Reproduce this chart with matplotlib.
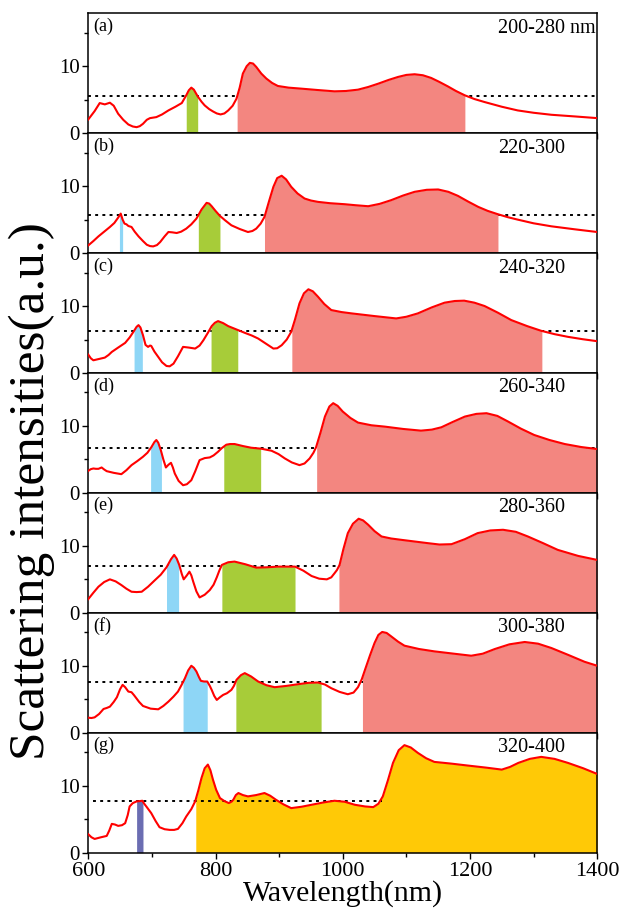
import numpy as np
import matplotlib.pyplot as plt

plt.rcParams['font.family'] = ['Liberation Serif', 'DejaVu Serif']

# Scattering spectra, one per excitation band
wl_a = [600, 610, 618, 626, 634, 640, 647, 655, 663, 670, 676, 681, 686, 692, 697, 707, 716, 726, 737, 747,
        754, 758, 762, 766, 772, 778, 783, 790, 796, 802, 808, 814, 820, 827, 833, 838, 843, 849, 854, 859,
        864, 872, 880, 889, 898, 915, 935, 960, 987, 1005, 1024, 1040, 1056, 1072, 1087, 1100, 1113, 1126,
        1139, 1152, 1165, 1178, 1192, 1207, 1223, 1250, 1275, 1300, 1328, 1365, 1400]
int_a = [2.05, 3.3, 4.5, 4.3, 4.55, 4.1, 2.9, 2.0, 1.3, 1.0, 0.9, 1.05, 1.4, 2.0, 2.25, 2.4, 2.8, 3.4, 3.95, 4.5,
         5.65, 6.4, 6.8, 6.5, 5.5, 4.7, 4.15, 3.6, 3.25, 2.95, 2.8, 2.95, 3.4, 4.1, 5.15, 6.8, 8.9, 10.0, 10.5, 10.4,
         9.9, 8.9, 8.15, 7.5, 7.05, 6.8, 6.65, 6.45, 6.25, 6.3, 6.5, 6.9, 7.4, 7.95, 8.4, 8.7, 8.8, 8.65,
         8.25, 7.65, 7.0, 6.3, 5.65, 5.1, 4.65, 3.95, 3.4, 3.05, 2.75, 2.5, 2.25]

wl_b = [600, 608, 616, 625, 634, 641, 647, 651, 654, 657, 660, 663, 668, 673, 679, 686, 692, 697, 702, 708,
        713, 720, 726, 732, 739, 746, 754, 762, 770, 778, 786, 790, 794, 800, 807, 815, 825, 838, 851, 858,
        864, 871, 877, 884, 891, 897, 904, 911, 919, 929, 940, 950, 961, 980, 1003, 1020, 1040, 1058, 1076,
        1095, 1113, 1132, 1150, 1166, 1181, 1197, 1213, 1228, 1244, 1260, 1275, 1300, 1328, 1365, 1400]
int_b = [1.15, 1.8, 2.5, 3.2, 3.9, 4.5, 5.3, 5.9, 5.0, 4.4, 4.3, 4.05, 3.9, 3.2, 2.5, 1.8, 1.25, 1.05, 1.0, 1.2,
         1.65, 2.5, 3.15, 3.1, 3.0, 3.2, 3.65, 4.3, 5.15, 6.5, 7.5, 7.4, 7.0, 6.3, 5.55, 4.9, 4.15, 3.6, 3.15, 3.3,
         3.65, 4.4, 5.4, 7.7, 9.9, 11.2, 11.55, 11.0, 9.9, 8.9, 8.15, 7.85, 7.65, 7.45, 7.3, 7.15, 7.0, 7.35, 7.9,
         8.6, 9.15, 9.45, 9.5, 9.15, 8.55, 7.7, 6.9, 6.3, 5.8, 5.35, 5.0, 4.45, 4.0, 3.55, 3.15]

wl_c = [600, 604, 608, 617, 626, 632, 637, 647, 658, 665, 671, 676, 679, 682, 686, 690, 694, 697, 699, 704,
        710, 716, 723, 728, 734, 741, 749, 758, 768, 775, 781, 788, 794, 799, 804, 812, 820, 833, 846, 857,
        867, 879, 891, 897, 904, 912, 919, 925, 932, 939, 946, 953, 961, 971, 982, 998, 1014, 1050, 1084,
        1100, 1118, 1140, 1160, 1176, 1191, 1207, 1223, 1244, 1265, 1290, 1312, 1333, 1354, 1377, 1400]
int_c = [2.75, 2.2, 1.9, 2.1, 2.3, 2.7, 3.15, 3.8, 4.5, 5.3, 6.15, 6.9, 7.15, 6.8, 5.65, 4.2, 3.9, 4.1, 4.05, 3.2,
         2.4, 1.6, 1.05, 1.0, 1.4, 2.5, 3.9, 3.8, 3.65, 4.1, 4.9, 6.0, 7.0, 7.5, 7.75, 7.45, 7.0, 6.5, 6.0, 5.6,
         5.15, 4.4, 3.65, 3.7, 4.15, 5.0, 6.15, 8.0, 10.4, 11.9, 12.5, 12.2, 11.4, 10.3, 9.4, 9.1, 8.9, 8.5, 8.15,
         8.4, 8.9, 9.8, 10.5, 10.75, 10.8, 10.5, 10.0, 9.0, 7.9, 7.0, 6.3, 5.8, 5.4, 5.05, 4.75]

wl_d = [600, 604, 608, 612, 616, 621, 625, 629, 640, 652, 660, 668, 677, 686, 693, 699, 704, 707, 710, 714,
        718, 722, 726, 730, 733, 736, 742, 749, 755, 762, 768, 775, 783, 791, 797, 804, 810, 817, 823, 830,
        843, 856, 872, 888, 899, 909, 920, 932, 940, 948, 954, 958, 965, 972, 979, 985, 992, 1000, 1012, 1024,
        1045, 1066, 1095, 1123, 1140, 1155, 1173, 1192, 1210, 1226, 1243, 1260, 1280, 1301, 1325, 1349, 1375, 1400]
int_d = [3.3, 3.55, 3.65, 3.6, 3.6, 3.8, 3.5, 3.25, 3.0, 2.8, 3.4, 4.15, 4.75, 5.4, 6.0, 6.8, 7.6, 7.9, 7.5, 6.4,
         5.0, 3.8, 4.2, 4.5, 3.8, 2.9, 1.8, 1.15, 1.3, 1.9, 3.2, 4.9, 5.2, 5.3, 5.6, 6.15, 6.7, 7.2, 7.3, 7.3,
         7.0, 6.75, 6.6, 6.3, 5.8, 5.15, 4.55, 4.15, 4.4, 5.15, 6.0, 6.8, 9.0, 11.4, 12.9, 13.4, 13.0, 12.15, 11.2, 10.5,
         10.1, 9.9, 9.55, 9.3, 9.45, 9.8, 10.6, 11.4, 11.8, 11.9, 11.5, 10.65, 9.6, 8.65, 7.9, 7.3, 6.85, 6.55]

wl_e = [600, 608, 616, 625, 634, 643, 652, 660, 668, 676, 684, 694, 705, 714, 723, 730, 735, 739, 743, 747,
        750, 755, 759, 762, 765, 770, 775, 783, 791, 797, 802, 806, 810, 820, 830, 847, 864, 881, 898, 912,
        925, 938, 951, 963, 975, 982, 987, 991, 995, 1001, 1008, 1016, 1025, 1032, 1040, 1050, 1061, 1076, 1092,
        1113, 1134, 1152, 1171, 1192, 1212, 1232, 1252, 1272, 1291, 1315, 1338, 1370, 1400]
int_e = [2.05, 3.0, 3.9, 4.6, 5.0, 4.7, 4.15, 3.6, 3.15, 3.1, 3.15, 3.9, 4.9, 5.7, 6.8, 8.0, 8.65, 8.1, 7.15, 5.8,
         5.0, 5.6, 6.15, 5.6, 4.65, 3.2, 2.3, 2.7, 3.4, 4.2, 5.3, 6.3, 7.15, 7.55, 7.65, 7.25, 6.75, 6.8, 6.9, 6.9,
         6.9, 6.3, 5.5, 5.1, 5.0, 5.3, 5.9, 6.4, 7.15, 9.5, 11.9, 13.3, 14.05, 13.8, 13.15, 12.2, 11.4, 11.1, 10.9,
         10.65, 10.4, 10.2, 10.25, 11.0, 11.9, 12.3, 12.4, 12.1, 11.4, 10.4, 9.4, 8.5, 7.9]

wl_f = [600, 605, 610, 617, 624, 629, 634, 640, 645, 650, 654, 658, 663, 668, 672, 680, 686, 698, 710, 718,
        726, 734, 741, 747, 752, 757, 762, 766, 770, 774, 777, 782, 787, 791, 794, 798, 802, 807, 812, 818,
        825, 829, 833, 840, 846, 856, 867, 880, 893, 912, 930, 946, 961, 972, 982, 995, 1008, 1017, 1024, 1030,
        1035, 1043, 1050, 1056, 1062, 1069, 1076, 1087, 1097, 1120, 1144, 1175, 1202, 1220, 1239, 1262, 1286,
        1307, 1328, 1355, 1380, 1400]
int_f = [2.25, 2.2, 2.3, 2.8, 3.55, 3.7, 3.9, 4.6, 5.3, 6.5, 7.15, 6.8, 6.15, 6.05, 5.6, 4.6, 4.0, 3.6, 3.5, 4.0,
         4.65, 5.4, 6.15, 7.2, 8.15, 9.3, 10.0, 9.7, 9.15, 8.3, 7.75, 7.65, 7.65, 7.0, 6.4, 5.5, 4.9, 5.3, 5.65, 5.9,
         6.4, 7.0, 7.9, 8.6, 8.9, 8.4, 7.65, 7.1, 6.8, 7.0, 7.25, 7.45, 7.5, 7.2, 6.65, 6.1, 5.75, 6.0, 6.8, 8.0,
         9.4, 11.6, 13.4, 14.6, 15.05, 14.9, 14.4, 13.6, 13.0, 12.5, 12.15, 11.8, 11.5, 11.8, 12.5, 13.2, 13.55,
         13.3, 12.65, 11.6, 10.6, 10.0]

wl_g = [600, 605, 610, 620, 629, 633, 637, 642, 647, 653, 658, 662, 665, 670, 676, 681, 685, 688, 692, 699,
        706, 712, 720, 728, 735, 741, 748, 754, 762, 768, 773, 778, 783, 788, 792, 796, 801, 807, 814, 821,
        825, 828, 832, 836, 843, 851, 864, 877, 886, 895, 907, 919, 935, 951, 970, 987, 1003, 1019, 1035, 1048,
        1056, 1063, 1071, 1079, 1088, 1097, 1107, 1118, 1131, 1144, 1170, 1197, 1225, 1250, 1263, 1276, 1294,
        1312, 1333, 1354, 1378, 1400]
int_g = [2.75, 2.3, 2.05, 2.3, 2.5, 3.3, 4.3, 4.2, 4.0, 4.1, 4.4, 5.6, 6.9, 7.4, 7.65, 7.7, 7.75, 7.3, 6.8, 5.9,
         4.7, 3.8, 3.5, 3.4, 3.4, 3.55, 4.4, 5.4, 6.5, 7.65, 9.3, 11.15, 12.6, 13.15, 12.3, 10.9, 9.4, 8.15, 7.7, 7.4,
         7.6, 7.9, 8.6, 8.9, 8.6, 8.4, 8.6, 8.9, 8.5, 7.9, 7.2, 6.65, 6.85, 7.15, 7.5, 7.75, 7.6, 7.15, 6.9, 6.8,
         7.3, 8.4, 10.8, 13.4, 15.3, 16.05, 15.7, 14.9, 14.1, 13.55, 13.3, 13.0, 12.7, 12.4, 12.8, 13.4, 14.0,
         14.3, 14.0, 13.4, 12.6, 11.75]

wavelengths = [wl_a, wl_b, wl_c, wl_d, wl_e, wl_f, wl_g]
intensities = [int_a, int_b, int_c, int_d, int_e, int_f, int_g]

panel_tags = ['(a)', '(b)', '(c)', '(d)', '(e)', '(f)', '(g)']
band_labels = ['200-280 nm', '220-300', '240-320', '260-340', '280-360', '300-380', '320-400']
thresholds = [5.55, 5.65, 6.25, 6.65, 6.95, 7.6, 7.75]
threshold_start = [600, 600, 600, 600, 600, 600, 607]
threshold_end = [1400, 1400, 1400, 1400, 1400, 1400, 1062]

# shaded windows (start, end, colour) per panel
blue, green, salmon = '#8ED6F6', '#A7CC39', '#F38680'
purple, gold = '#6B6DB2', '#FFC906'
windows = [
    [(754, 772, green), (834, 1192, salmon)],
    [(649, 654, blue), (773, 807, green), (877, 1244, salmon)],
    [(672, 685, blue), (793, 835, green), (920, 1313, salmon)],
    [(698, 715, blue), (813, 871, green), (959, 1400, salmon)],
    [(723, 742, blue), (810, 925, green), (994, 1400, salmon)],
    [(749, 787, blue), (832, 966, green), (1031, 1400, salmon)],
    [(676, 686, purple), (769, 1400, gold)],
]

fig, axes = plt.subplots(7, 1, figsize=(6.26, 9.10), dpi=100, sharex=True)
fig.subplots_adjust(left=0.141, right=0.954, top=0.9854, bottom=0.063, hspace=0)

for i, ax in enumerate(axes):
    x = np.array(wavelengths[i], dtype=float)
    y = np.array(intensities[i], dtype=float)

    for x0, x1, col in windows[i]:
        inside = (x > x0) & (x < x1)
        xs = np.concatenate([[x0], x[inside], [x1]])
        ys = np.concatenate([[np.interp(x0, x, y)], y[inside], [np.interp(x1, x, y)]])
        ax.fill_between(xs, 0, ys, color=col, lw=0, zorder=2)

    # the last panel has its threshold drawn over the fill
    tz = 3 if i == 6 else 1
    ax.plot([threshold_start[i], threshold_end[i]], [thresholds[i]] * 2, color='black', lw=1.4,
            linestyle=(0, (1.5, 2.2)), zorder=tz)
    ax.plot(x, y, color='red', lw=1.5, zorder=4)

    ax.set_xlim(600, 1400)
    ax.set_ylim(0, 17.9)
    ax.set_yticks([0, 10])
    ax.set_yticks([5, 15], minor=True)
    ax.set_xticks([600, 800, 1000, 1200, 1400])
    ax.set_xticks(np.arange(700, 1400, 200), minor=True)
    ax.tick_params(axis='both', which='major', direction='out', length=4, width=1,
                   labelsize=15, pad=2)
    ax.tick_params(axis='both', which='minor', direction='out', length=3, width=1)
    ax.tick_params(axis='x', labelsize=16, pad=3)
    for s in ax.spines.values():
        s.set_linewidth(1.1)

    ax.text(0.01, 0.965, panel_tags[i], transform=ax.transAxes, ha='left', va='top', fontsize=13)
    ax.text(0.805, 0.955, band_labels[i], transform=ax.transAxes, ha='left', va='top', fontsize=14.5)

axes[-1].set_xlabel('Wavelength(nm)', fontsize=21.5)
axes[-1].xaxis.set_label_coords(0.5, -0.225)
fig.text(0.05, 0.46, 'Scattering intensities(a.u.)', rotation=90, ha='center', va='center',
         fontsize=37)

fig.savefig('out.png', dpi=100)
